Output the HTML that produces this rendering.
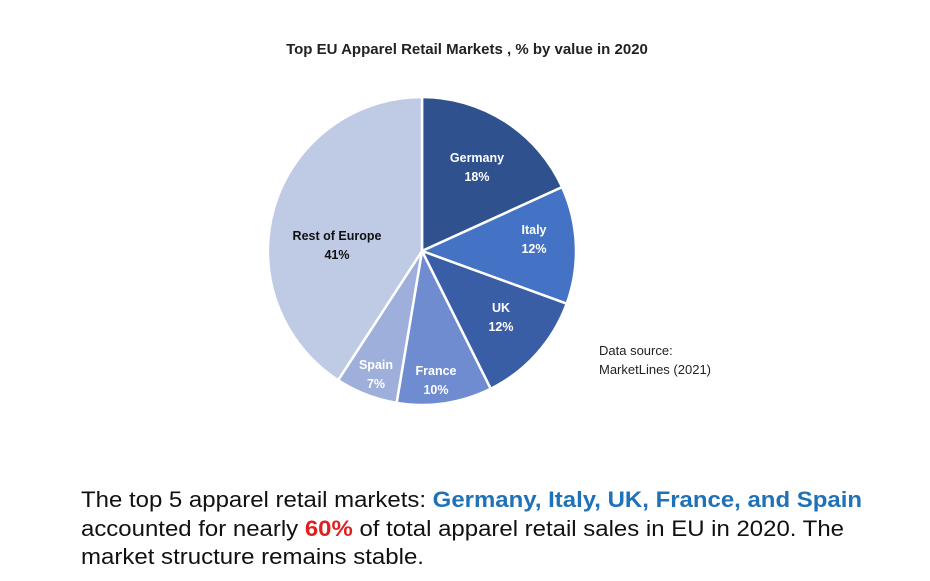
<!DOCTYPE html>
<html><head><meta charset="utf-8"><style>
html,body{margin:0;padding:0;background:#fff;}
svg{display:block;}
</style></head><body>
<svg width="930" height="581" viewBox="0 0 930 581" xmlns="http://www.w3.org/2000/svg" font-family="Liberation Sans, sans-serif">
<text x="467" y="54" text-anchor="middle" font-size="15" font-weight="bold" fill="#222">Top EU Apparel Retail Markets , % by value in 2020</text>
<g stroke="#fff" stroke-width="2.5" stroke-linejoin="round">
<path d="M422,251 L422,97 A154,154 0 0 1 562.1,187.1 Z" fill="#2F528F"/>
<path d="M422,251 L562.1,187.1 A154,154 0 0 1 566.7,303.7 Z" fill="#4472C4"/>
<path d="M422,251 L566.7,303.7 A154,154 0 0 1 490.7,388.8 Z" fill="#3A5EA6"/>
<path d="M422,251 L490.7,388.8 A154,154 0 0 1 396.6,402.9 Z" fill="#6E8CCF"/>
<path d="M422,251 L396.6,402.9 A154,154 0 0 1 338.1,380.2 Z" fill="#9DAFDA"/>
<path d="M422,251 L338.1,380.2 A154,154 0 0 1 422,97 Z" fill="#BFCAE5"/>
</g>
<g font-size="12.5" font-weight="bold" text-anchor="middle" fill="#fff">
<text x="477" y="162">Germany</text><text x="477" y="181">18%</text>
<text x="534" y="234">Italy</text><text x="534" y="253">12%</text>
<text x="501" y="312">UK</text><text x="501" y="331">12%</text>
<text x="436" y="375">France</text><text x="436" y="394">10%</text>
<text x="376" y="369">Spain</text><text x="376" y="388">7%</text>
<text x="337" y="240" fill="#111">Rest of Europe</text><text x="337" y="259" fill="#111">41%</text>
</g>
<text x="599" y="355" font-size="13" fill="#222">Data source:</text>
<text x="599" y="374" font-size="13" fill="#222">MarketLines (2021)</text>
<g font-size="22" fill="#111">
<text x="81" y="507" textLength="781" lengthAdjust="spacingAndGlyphs">The top 5 apparel retail markets: <tspan fill="#1F72B8" font-weight="bold">Germany, Italy, UK, France, and Spain</tspan></text>
<text x="81" y="536" textLength="763" lengthAdjust="spacingAndGlyphs">accounted for nearly <tspan fill="#E0201F" font-weight="bold">60%</tspan>  of total apparel retail sales in EU in 2020. The</text>
<text x="81" y="564" textLength="343" lengthAdjust="spacingAndGlyphs">market structure remains stable.</text>
</g>
</svg>
</body></html>
